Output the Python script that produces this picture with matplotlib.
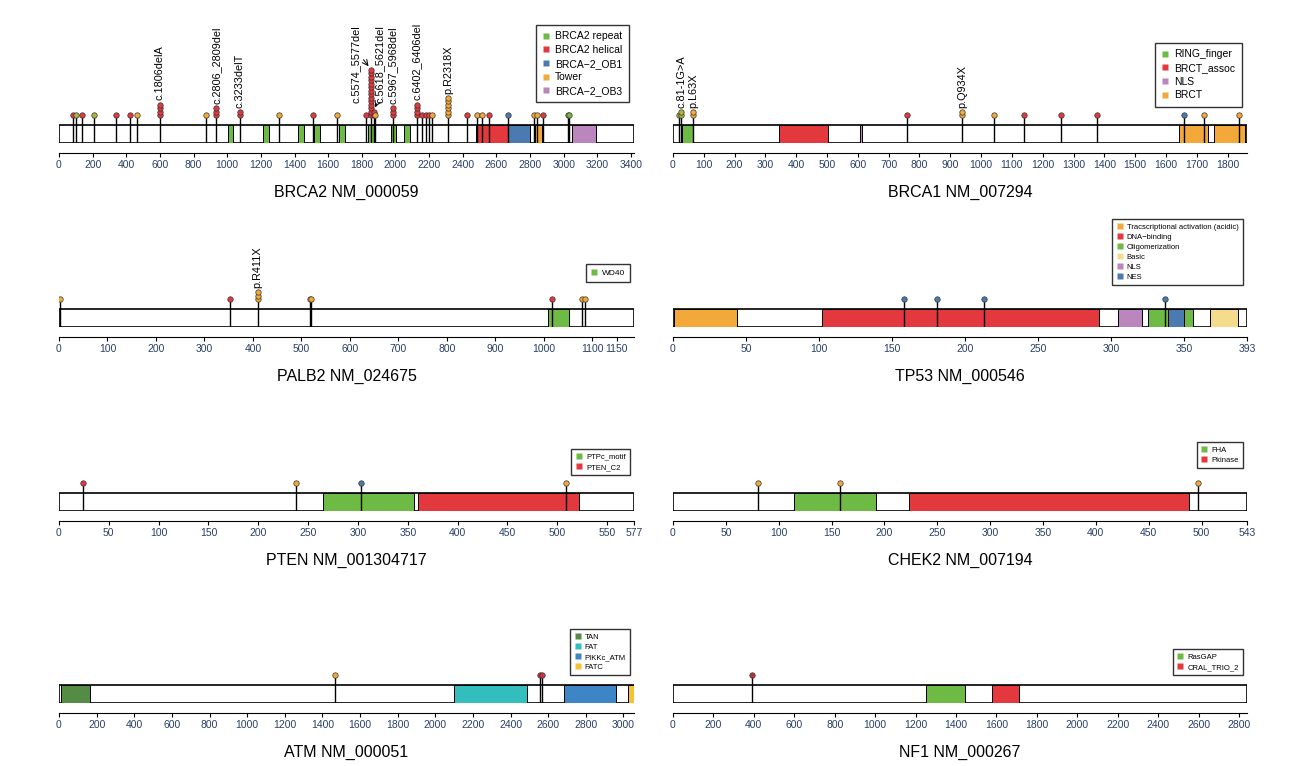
import matplotlib
matplotlib.use('Agg')
from matplotlib import pyplot as plt
from matplotlib.patches import Rectangle
from matplotlib.lines import Line2D

plt.rcParams['font.family'] = ['Liberation Sans', 'DejaVu Sans']

RED = '#e3383d'
ORA = '#f3a83a'
OLV = '#b0b53a'
BLU = '#4a7ab0'
GRN = '#6dba45'
PUR = '#bb85bd'

# ---- datos ----
brca2_len = 3418
brca2_dom = [(1002, 1036, GRN), (1212, 1246, GRN), (1421, 1455, GRN), (1517, 1551, GRN),
             (1664, 1698, GRN), (1837, 1871, GRN), (1971, 2005, GRN), (2051, 2085, GRN),
             (2479, 2667, RED), (2670, 2799, BLU), (2831, 2872, ORA), (3052, 3190, PUR)]
brca2_leg = [('BRCA2 repeat', GRN), ('BRCA2 helical', RED), ('BRCA\u22122_OB1', BLU),
             ('Tower', ORA), ('BRCA\u22122_OB3', PUR)]
brca2_pos = [84, 102, 134, 209, 337, 423, 466, 600, 876, 935, 1073, 1310, 1510, 1651, 1822,
             1853, 1872, 1878, 1983, 2126, 2156, 2183, 2201, 2217, 2313, 2426, 2486, 2513,
             2554, 2670, 2822, 2843, 2877, 3024, 3034]
brca2_col = [RED, OLV, RED, OLV, RED, RED, ORA, RED, ORA, RED, RED, ORA, RED, ORA, RED,
             RED, RED, ORA, RED, RED, RED, RED, RED, ORA, ORA, RED, ORA, ORA,
             RED, BLU, ORA, ORA, RED, ORA, GRN]
brca2_n = [1, 1, 1, 1, 1, 1, 1, 4, 1, 3, 2, 1, 1, 1, 1,
           14, 2, 1, 3, 4, 1, 1, 1, 1, 6, 1, 1, 1, 1, 1, 1, 1, 1, 1, 1]
brca2_lab = {600: 'c.1806delA', 935: 'c.2806_2809del', 1073: 'c.3233delT',
             1983: 'c.5967_5968del', 2126: 'c.6402_6406del', 2313: 'p.R2318X'}

brca1_len = 1863
brca1_dom = [(29, 66, GRN), (345, 503, RED), (607, 615, PUR), (1642, 1735, ORA), (1756, 1857, ORA)]
brca1_leg = [('RING_finger', GRN), ('BRCT_assoc', RED), ('NLS', PUR), ('BRCT', ORA)]
brca1_pos = [21, 27, 66, 760, 938, 1043, 1140, 1260, 1376, 1658, 1723, 1838]
brca1_col = [OLV, OLV, ORA, RED, ORA, ORA, RED, RED, RED, BLU, ORA, ORA]
brca1_n = [1, 2, 2, 1, 2, 1, 1, 1, 1, 1, 1, 1]
brca1_lab = {27: 'c.81-1G>A', 66: 'p.L63X', 938: 'p.Q934X'}

palb2_len = 1186
palb2_dom = [(1008, 1051, GRN)]
palb2_leg = [('WD40', GRN)]
palb2_pos = [2, 352, 410, 518, 520, 1016, 1079, 1085]
palb2_col = [ORA, RED, ORA, ORA, ORA, RED, ORA, ORA]
palb2_n = [1, 1, 3, 1, 1, 1, 1, 1]
palb2_lab = {410: 'p.R411X'}

tp53_len = 393
tp53_dom = [(1, 44, ORA), (102, 292, RED), (305, 321, PUR), (325, 356, GRN), (339, 350, BLU),
            (368, 387, '#f5dc8c')]
tp53_leg = [('Tracscriptional activation (acidic)', ORA), ('DNA\u2212binding', RED),
            ('Oligomerization', GRN), ('Basic', '#f5dc8c'), ('NLS', PUR), ('NES', BLU)]
tp53_pos = [158, 181, 213, 337]
tp53_col = [BLU, BLU, BLU, BLU]
tp53_n = [1, 1, 1, 1]

pten_len = 577
pten_dom = [(265, 356, GRN), (360, 522, RED)]
pten_leg = [('PTPc_motif', GRN), ('PTEN_C2', RED)]
pten_pos = [24, 238, 303, 509]
pten_col = [RED, ORA, BLU, ORA]
pten_n = [1, 1, 1, 1]

chek2_len = 543
chek2_dom = [(114, 192, GRN), (223, 488, RED)]
chek2_leg = [('FHA', GRN), ('Pkinase', RED)]
chek2_pos = [80, 158, 497]
chek2_col = [ORA, ORA, ORA]
chek2_n = [1, 1, 1]

atm_len = 3056
atm_dom = [(10, 165, '#548b45'), (2099, 2486, '#33bdbd'), (2682, 2961, '#3d85c6'), (3026, 3056, '#f5c234')]
atm_leg = [('TAN', '#548b45'), ('FAT', '#33bdbd'), ('PIKKc_ATM', '#3d85c6'), ('FATC', '#f5c234')]
atm_pos = [1465, 2557, 2568]
atm_col = [ORA, '#d0303a', '#d0303a']
atm_n = [1, 1, 1]

nf1_len = 2839
nf1_dom = [(1249, 1444, GRN), (1580, 1712, RED)]
nf1_leg = [('RasGAP', GRN), ('CRAL_TRIO_2', RED)]
nf1_pos = [390]
nf1_col = ['#c0303a']
nf1_n = [1]

W, H = 1299, 766
fig = plt.figure(figsize=(W / 100, H / 100), dpi=100)
TICKC = '#2a3f66'
BASE, STEP = 28, 3.5


def panel(x0, x1, bottom, length, dom, leg, pos, col, n, lab, title, ticks, tlabels,
          legtop, legfs):
    ah = 130
    ax = fig.add_axes([x0 / W, (H - bottom) / H, (x1 - x0) / W, ah / H])
    ax.patch.set_visible(False)
    ax.set_xlim(0, length)
    ax.set_ylim(0, ah)
    for s in ['top', 'right', 'left']:
        ax.spines[s].set_visible(False)
    ax.spines['bottom'].set_position(('outward', 7))
    ax.set_yticks([])
    ax.set_xticks(ticks)
    ax.set_xticklabels(tlabels, fontsize=7.5, color=TICKC)
    ax.tick_params(axis='x', length=3, pad=2)
    ax.set_xlabel(title, fontsize=11.5, labelpad=11)
    ax.add_patch(Rectangle((0, 0), length, 18, facecolor='white', edgecolor='black', lw=1.2, zorder=1))
    for a, b, c in dom:
        ax.add_patch(Rectangle((a, 0), b - a, 18, facecolor=c, edgecolor='black', lw=0.7, zorder=2))
    for p, c, k in zip(pos, col, n):
        ax.plot([p, p], [0, BASE], color='black', lw=1, zorder=3)
        ys = [BASE + i * STEP for i in range(k)]
        ax.plot([p] * k, ys, 'o', ms=3.9, mfc=c, mec='#333333', mew=0.5, zorder=4)
        if lab and p in lab:
            ax.text(p, ys[-1] + 4, lab[p], rotation=90, fontsize=7.8, ha='center', va='bottom')
    hs = [Line2D([], [], ls='', marker='s', ms=5, mfc=c, mec='none') for _, c in leg]
    lg = ax.legend(hs, [t for t, _ in leg], loc='upper right',
                   bbox_to_anchor=(1.0, (bottom - legtop) / ah), fontsize=legfs,
                   frameon=True, fancybox=False, edgecolor='black', handlelength=0.8,
                   handletextpad=0.5, borderpad=0.6, labelspacing=0.35)
    lg.get_frame().set_linewidth(1)
    return ax


def rng(a, b, s):
    return list(range(a, b + 1, s))


L0, L1, R0, R1 = 59, 634, 673, 1247

ax = panel(L0, L1, 143, brca2_len, brca2_dom, brca2_leg, brca2_pos, brca2_col, brca2_n,
           brca2_lab, 'BRCA2 NM_000059', rng(0, 3400, 200), rng(0, 3400, 200), 20, 7.5)
top = BASE + 13 * STEP
ax.text(1765, 40, 'c.5574_5577del', rotation=90, fontsize=7.8, ha='center', va='bottom')
ax.annotate('', xy=(1850, top + 1), xytext=(1800, top + 12),
            arrowprops=dict(arrowstyle='->', lw=0.7))
ax.text(1905, 40, 'c.5618_5621del', rotation=90, fontsize=7.8, ha='center', va='bottom')
ax.annotate('', xy=(1874, 33), xytext=(1895, 42),
            arrowprops=dict(arrowstyle='->', lw=0.7))

panel(R0, R1, 143, brca1_len, brca1_dom, brca1_leg, brca1_pos, brca1_col, brca1_n,
      brca1_lab, 'BRCA1 NM_007294', rng(0, 1800, 100), rng(0, 1800, 100), 38, 7.5)

panel(L0, L1, 327, palb2_len, palb2_dom, palb2_leg, palb2_pos, palb2_col, palb2_n,
      palb2_lab, 'PALB2 NM_024675', rng(0, 1100, 100) + [1150],
      [str(v) for v in rng(0, 1000, 100)] + ['1100', '1150'], 260, 6)

panel(R0, R1, 327, tp53_len, tp53_dom, tp53_leg, tp53_pos, tp53_col, tp53_n,
      None, 'TP53 NM_000546', rng(0, 350, 50) + [393], rng(0, 350, 50) + [393], 215, 5.5)

panel(L0, L1, 511, pten_len, pten_dom, pten_leg, pten_pos, pten_col, pten_n,
      None, 'PTEN NM_001304717', rng(0, 550, 50) + [577], rng(0, 550, 50) + [577], 445, 5.5)

panel(R0, R1, 511, chek2_len, chek2_dom, chek2_leg, chek2_pos, chek2_col, chek2_n,
      None, 'CHEK2 NM_007194', rng(0, 500, 50) + [543], rng(0, 500, 50) + [543], 438, 5.5)

panel(L0, L1, 703, atm_len, atm_dom, atm_leg, atm_pos, atm_col, atm_n,
      None, 'ATM NM_000051', rng(0, 3000, 200), rng(0, 3000, 200), 625, 5.5)

panel(R0, R1, 703, nf1_len, nf1_dom, nf1_leg, nf1_pos, nf1_col, nf1_n,
      None, 'NF1 NM_000267', rng(0, 2800, 200), rng(0, 2800, 200), 645, 5.5)

fig.savefig('out.png', dpi=100)
